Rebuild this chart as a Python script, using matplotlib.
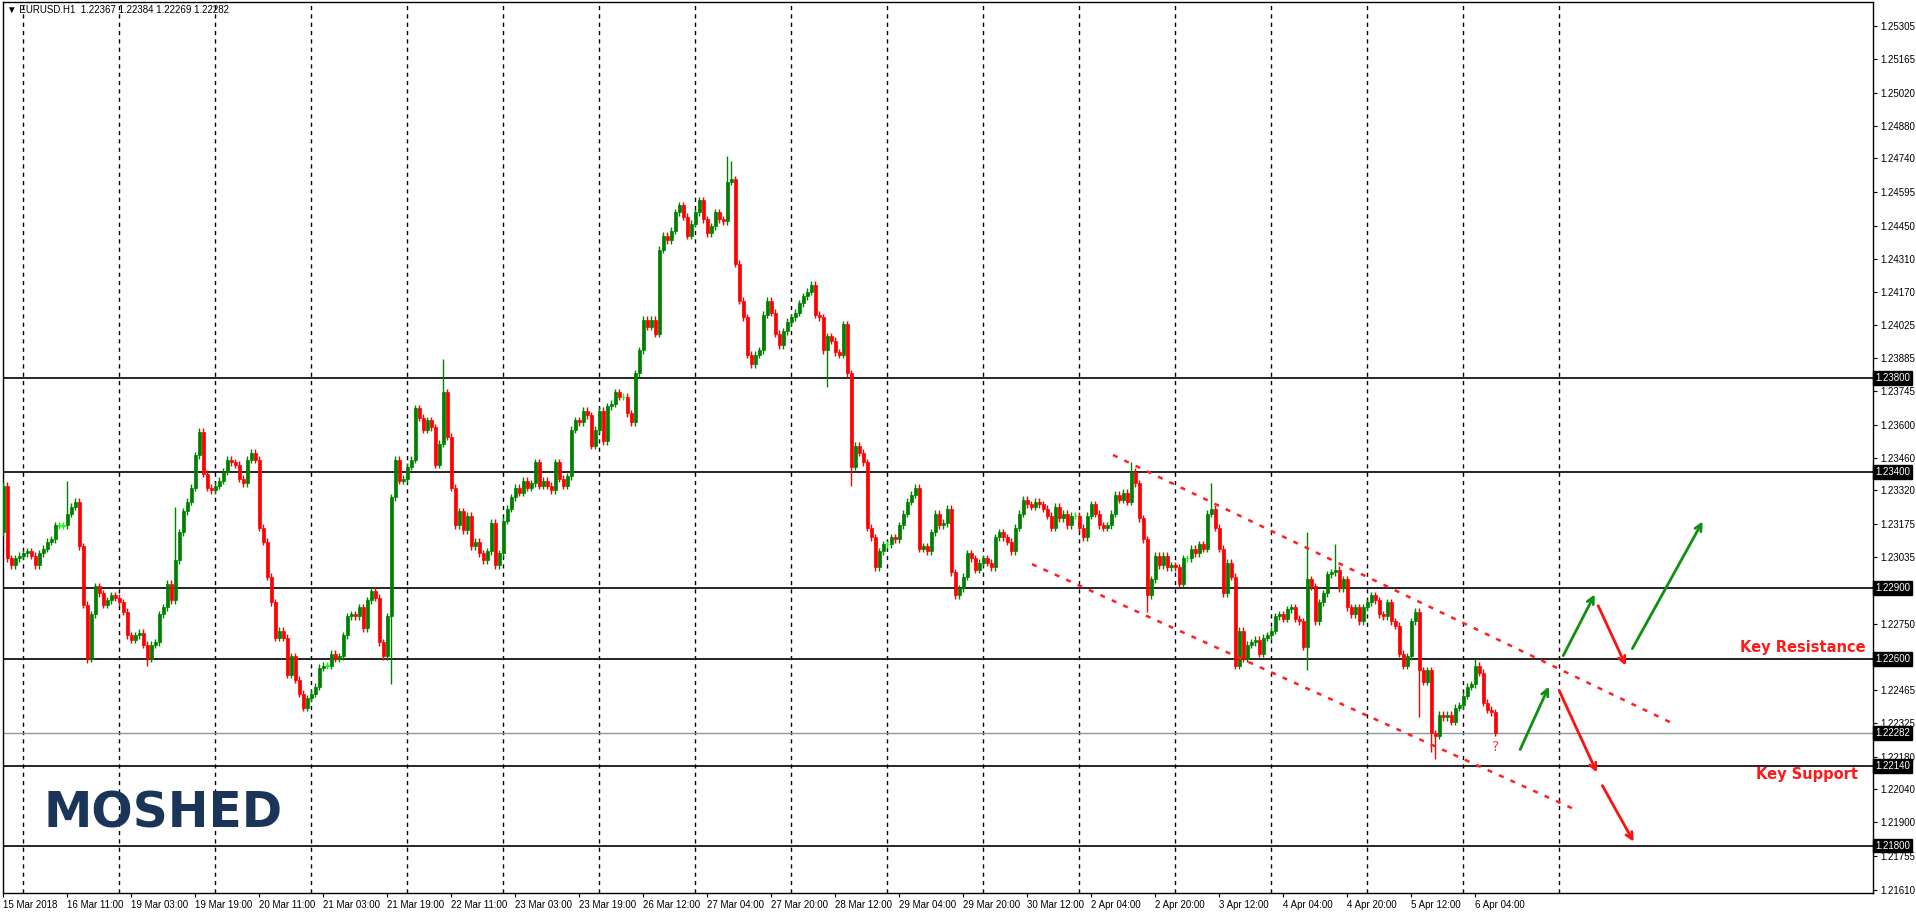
import matplotlib
matplotlib.use("Agg")
import matplotlib.pyplot as plt
import matplotlib.transforms as mtransforms

closes = [
1.2334,1.2303,1.2300,1.2303,1.2304,1.2305,1.2306,1.2304,1.2300,1.2305,
1.2307,1.2310,1.2311,1.2317,1.2317,1.2317,1.2322,1.2325,1.2327,1.2308,
1.2283,1.2260,1.2279,1.2291,1.2288,1.2283,1.2285,1.2287,1.2286,1.2284,
1.2280,1.2270,1.2268,1.2270,1.2271,1.2266,1.2260,1.2266,1.2267,1.2279,
1.2282,1.2292,1.2285,1.2302,1.2314,1.2323,1.2327,1.2333,1.2347,1.2357,
1.2339,1.2333,1.2332,1.2334,1.2336,1.2340,1.2345,1.2344,1.2343,1.2337,
1.2335,1.2345,1.2348,1.2345,1.2316,1.2310,1.2295,1.2284,1.2269,1.2272,
1.2269,1.2253,1.2261,1.2251,1.2245,1.2239,1.2243,1.2245,1.2248,1.2256,
1.2257,1.2257,1.2262,1.2260,1.2261,1.2270,1.2278,1.2279,1.2278,1.2282,
1.2273,1.2285,1.2289,1.2286,1.2267,1.2261,1.2278,1.2329,1.2345,1.2336,
1.2337,1.2342,1.2345,1.2367,1.2363,1.2358,1.2362,1.2359,1.2343,1.2352,
1.2374,1.2355,1.2333,1.2317,1.2323,1.2315,1.2321,1.2308,1.2310,1.2305,
1.2302,1.2306,1.2318,1.2300,1.2305,1.2319,1.2324,1.2329,1.2333,1.2331,
1.2336,1.2333,1.2335,1.2344,1.2334,1.2336,1.2334,1.2332,1.2344,1.2337,
1.2334,1.2338,1.2358,1.2362,1.2361,1.2366,1.2364,1.2351,1.2358,1.2366,
1.2353,1.2368,1.2369,1.2374,1.2372,1.2372,1.2365,1.2361,1.2382,1.2392,
1.2405,1.2402,1.2405,1.2399,1.2435,1.2441,1.2439,1.2443,1.2451,1.2454,
1.2449,1.2441,1.2446,1.2451,1.2456,1.2448,1.2442,1.2445,1.2451,1.2448,
1.2447,1.2464,1.2465,1.2429,1.2413,1.2406,1.2390,1.2386,1.2390,1.2392,
1.2407,1.2413,1.2408,1.2399,1.2394,1.2400,1.2404,1.2406,1.2408,1.2412,
1.2415,1.2417,1.2420,1.2407,1.2406,1.2392,1.2398,1.2396,1.2391,1.2390,
1.2403,1.2382,1.2342,1.2351,1.2348,1.2344,1.2316,1.2312,1.2299,1.2306,
1.2309,1.2309,1.2312,1.2311,1.2317,1.2322,1.2327,1.2330,1.2333,1.2307,
1.2308,1.2306,1.2314,1.2322,1.2317,1.2318,1.2324,1.2297,1.2287,1.2290,
1.2295,1.2305,1.2303,1.2298,1.2301,1.2303,1.2301,1.2299,1.2312,1.2314,
1.2312,1.2310,1.2306,1.2316,1.2322,1.2328,1.2326,1.2325,1.2327,1.2326,
1.2324,1.2321,1.2316,1.2325,1.2320,1.2322,1.2317,1.2321,1.2321,1.2316,
1.2312,1.2321,1.2326,1.2322,1.2317,1.2316,1.2317,1.2322,1.2330,1.2328,
1.2331,1.2327,1.2340,1.2335,1.2320,1.2311,1.2287,1.2294,1.2304,1.2300,
1.2304,1.2299,1.2300,1.2299,1.2292,1.2303,1.2303,1.2307,1.2305,1.2309,
1.2307,1.2322,1.2324,1.2316,1.2307,1.2288,1.2301,1.2295,1.2257,1.2272,
1.2260,1.2266,1.2267,1.2268,1.2262,1.2269,1.2270,1.2272,1.2278,1.2279,
1.2277,1.2281,1.2282,1.2277,1.2276,1.2265,1.2294,1.2291,1.2276,1.2284,
1.2288,1.2296,1.2297,1.2298,1.2290,1.2294,1.2282,1.2279,1.2282,1.2276,
1.2282,1.2284,1.2287,1.2285,1.2279,1.2278,1.2284,1.2276,1.2274,1.2262,
1.2257,1.2261,1.2276,1.2280,1.2255,1.2250,1.2255,1.2228,1.2227,1.2236,
1.2235,1.2236,1.2233,1.2239,1.2240,1.2244,1.2248,1.2249,1.2257,1.2254,
1.2241,1.2238,1.2237,1.22282]
first_open = 1.2314
special_highs = {16: 1.2336, 43: 1.2325, 110: 1.2388, 181: 1.2475, 182: 1.2473,
                 282: 1.2344, 302: 1.2335, 326: 1.2314, 333: 1.2309, 368: 1.2260}
special_lows = {21: 1.2258, 36: 1.2257, 97: 1.2249, 206: 1.2376, 212: 1.2334,
                286: 1.2280, 326: 1.2255, 354: 1.2235, 357: 1.2220, 358: 1.2217}
wick_pad = 0.00015

levels = [1.23800, 1.23400, 1.22900, 1.22600, 1.22140, 1.21800]
last_price = 1.22282
price_ticks = [1.25305, 1.25165, 1.25020, 1.24880, 1.24740, 1.24595, 1.24450, 1.24310,
               1.24170, 1.24025, 1.23885, 1.23745, 1.23600, 1.23460, 1.23320, 1.23175,
               1.23035, 1.22750, 1.22465, 1.22325, 1.22180, 1.22040, 1.21900, 1.21755, 1.21610]
time_labels = ["15 Mar 2018", "16 Mar 11:00", "19 Mar 03:00", "19 Mar 19:00", "20 Mar 11:00",
               "21 Mar 03:00", "21 Mar 19:00", "22 Mar 11:00", "23 Mar 03:00", "23 Mar 19:00",
               "26 Mar 12:00", "27 Mar 04:00", "27 Mar 20:00", "28 Mar 12:00", "29 Mar 04:00",
               "29 Mar 20:00", "30 Mar 12:00", "2 Apr 04:00", "2 Apr 20:00", "3 Apr 12:00",
               "4 Apr 04:00", "4 Apr 20:00", "5 Apr 12:00", "6 Apr 04:00"]
label_step = 16
day_starts = list(range(5, 390, 24))

channel_upper = [(277.5, 1.23471), (417.25, 1.22324)]
channel_lower = [(257.25, 1.23004), (392.25, 1.21960)]
arrows_green = [((379, 1.22200), (386.75, 1.22491)),
                ((389.75, 1.22602), (398.25, 1.22885)),
                ((407, 1.22632), (425.25, 1.23197))]
arrows_red = [((388.75, 1.22474), (398.75, 1.22102)),
              ((399.5, 1.22067), (408, 1.21806)),
              ((398.5, 1.22837), (406, 1.22559))]

AXFONT = "Liberation Sans"
W, H = 1916, 913
fig = plt.figure(figsize=(W/100, H/100), dpi=100)
ax = fig.add_axes([3/W, 20/H, 1870/W, 891/H])
ax.set_xlim(0, 467.5)
ax.set_ylim(1.21597, 1.25409)

for d in day_starts:
    ax.axvline(d, color="black", lw=1, ls=(0, (3, 3)), zorder=1)
for lv in levels:
    ax.axhline(lv, color="black", lw=1.2, zorder=2)
ax.axhline(last_price, color="#8a96a0", lw=1, zorder=2)

prev = first_open
for i, c in enumerate(closes):
    o = prev
    top, bot = max(o, c), min(o, c)
    hi = special_highs.get(i, top + wick_pad)
    lo = special_lows.get(i, bot - wick_pad)
    if abs(c - o) < 0.00002:
        col = "#00ff00"
        bot, top = c - 0.00001, c + 0.00001
    else:
        col = "#008000" if c > o else "#ff0000"
    ax.vlines(i, lo, hi, color=col, lw=1, zorder=3)
    ax.bar(i, top - bot, bottom=bot, width=0.75, color=col, edgecolor=col, lw=0.5, zorder=4)
    prev = c

for seg in (channel_upper, channel_lower):
    ax.plot([seg[0][0], seg[1][0]], [seg[0][1], seg[1][1]], color="#ff2020",
            lw=1.8, ls=(0, (2, 3)), zorder=5)
for (a, b) in arrows_green:
    ax.annotate("", xy=b, xytext=a, arrowprops=dict(arrowstyle="->", color="#109010", lw=2,
                mutation_scale=12), zorder=6)
for (a, b) in arrows_red:
    ax.annotate("", xy=b, xytext=a, arrowprops=dict(arrowstyle="->", color="#ff1010", lw=2,
                mutation_scale=12), zorder=6)

ax.text(465.75, 1.22649, "Key Resistance", color="#ff1a1a", fontsize=10.5, fontweight="bold",
        ha="right", va="center")
ax.text(463.75, 1.22106, "Key Support", color="#ff1a1a", fontsize=10.5, fontweight="bold",
        ha="right", va="center")
ax.text(373.25, 1.22221, "?", color="#ff4040", fontsize=10, ha="center", va="center")

ax.text(40/1870, 1 - 811/891, "MOSHED", transform=ax.transAxes, color="#1b3558",
        fontsize=35, fontweight="bold", ha="left", va="center")
ax.text(4/1870, 1 - 8/891, "\u25bc EURUSD.H1  1.22367 1.22384 1.22269 1.22282",
        transform=ax.transAxes, fontsize=7, ha="left", va="center", family=AXFONT)

ax.yaxis.tick_right()
ax.set_yticks(price_ticks)
ax.set_yticklabels([f"{v:.5f}" for v in price_ticks], fontsize=7, family=AXFONT)
ax.tick_params(axis="y", direction="out", length=3, pad=2)
tr = mtransforms.blended_transform_factory(ax.transAxes, ax.transData)
for lv in levels + [last_price]:
    ax.text(1.0012, lv, f"{lv:.5f}", transform=tr, fontsize=7, color="white", family=AXFONT,
            ha="left", va="center", zorder=10, clip_on=False,
            bbox=dict(boxstyle="square,pad=0.2", fc="black", ec="black"))

ax.set_xticks([k * label_step for k in range(len(time_labels))])
ax.set_xticklabels(time_labels, fontsize=7, ha="left", family=AXFONT)
ax.tick_params(axis="x", direction="out", length=3, pad=2)
for sp in ax.spines.values():
    sp.set_linewidth(1)

fig.savefig("out.png", dpi=100)
